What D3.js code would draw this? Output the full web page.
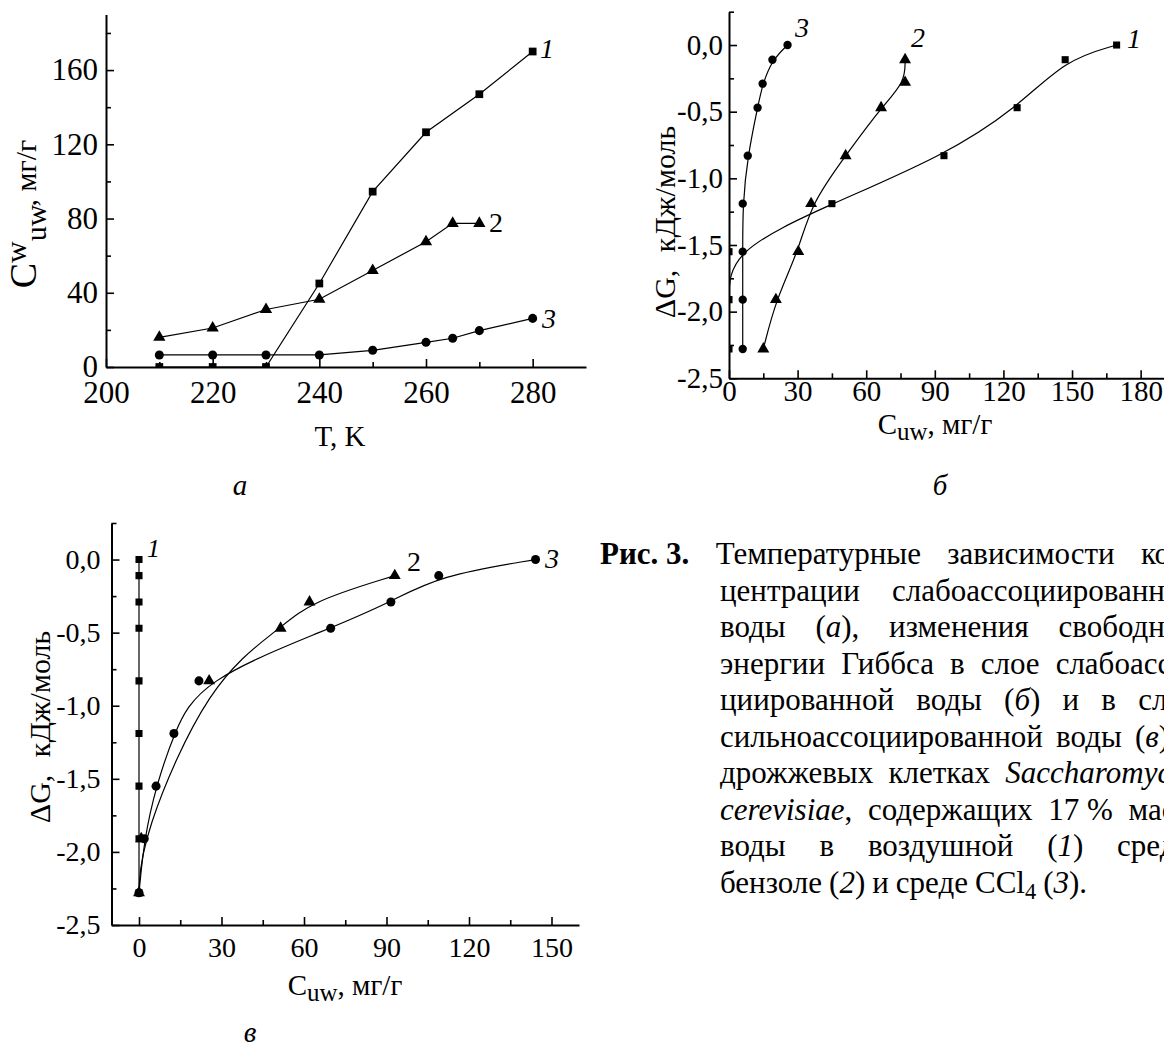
<!DOCTYPE html>
<html>
<head>
<meta charset="utf-8">
<script src="https://cdn.jsdelivr.net/npm/d3@7"></script>
<style>
  body { margin: 0; background: #fff; }
  text { font-family: "Liberation Serif", "Times New Roman", serif; fill: #000; }
  .axis .domain { stroke: #000; stroke-width: 2; }
  .axis line { stroke: #000; stroke-width: 1.6; }
</style>
</head>
<body>
<svg id="fig" width="1164" height="1048"></svg>
<script>
// panel а : C_uw^w (мг/г) against T (K)
var aT1 = [210, 220, 230, 240, 250, 260, 270, 280];
var aC1 = [0, 0, 0, 45, 94.5, 126.5, 147, 170];
var aT2 = [210, 220, 230, 240, 250, 260, 265, 270];
var aC2 = [16, 21, 31, 36.5, 52, 67.5, 77.4, 77.4];
var aT3 = [210, 220, 230, 240, 250, 260, 265, 270, 280];
var aC3 = [6.5, 6.5, 6.5, 6.5, 9, 13.3, 15.5, 19.6, 26.2];

// panel б : dG (кДж/моль) against C_uw (мг/г)
var bG1 = [-2.28, -1.91, -1.55, -1.19, -0.83, -0.47, -0.11, 0];
var bC1 = [0, 0, 0, 45, 94, 126, 147, 169.5];
var bG2 = [-2.28, -1.91, -1.55, -1.19, -0.83, -0.47, -0.28, -0.11];
var bC2 = [15, 20.5, 30.3, 35.9, 51, 66.5, 77, 77];
var bG3 = [-2.28, -1.91, -1.55, -1.19, -0.83, -0.47, -0.29, -0.11, 0];
var bC3 = [6, 6, 6, 6, 8.2, 12.5, 14.7, 19, 25.6];

// panel в : dG against C_uw (strongly associated water)
var cG1 = [-2.28, -1.91, -1.55, -1.19, -0.83, -0.47, -0.29, -0.11, 0];
var cC1 = [0, 0, 0, 0, 0, 0, 0, 0, 0];
var cG2 = [-2.28, -1.91, -0.83, -0.47, -0.29, -0.11];
var cC2 = [0, 0.8, 25.5, 51.5, 62, 93];
var cG3 = [-2.28, -1.91, -1.55, -1.19, -0.83, -0.47, -0.29, -0.11, 0];
var cC3 = [0, 1.9, 6.2, 12.7, 21.8, 69.7, 91.6, 109, 144.2];

// tick values
var aXMajor = [200, 220, 240, 260, 280], aXMinor = [210, 230, 250, 270];
var aYMajor = [0, 40, 80, 120, 160], aYMinor = [20, 60, 100, 140, 180];
var bXMajor = [0, 30, 60, 90, 120, 150, 180], bXMinor = [15, 45, 75, 105, 135, 165];
var cXMajor = [0, 30, 60, 90, 120, 150], cXMinor = [15, 45, 75, 105, 135];
var gMajor = [-2.5, -2, -1.5, -1, -0.5, 0], gMinor = [-2.25, -1.75, -1.25, -0.75, -0.25, 0.25];

// caption
var capLines = [
  ["*Рис.\u00a03.*", "Температурные", "зависимости", "кон-"],
  ["центрации", "слабоассоциированной"],
  ["воды", "(_а_),", "изменения", "свободной"],
  ["энергии", "Гиббса", "в", "слое", "слабоассо-"],
  ["циированной", "воды", "(_б_)", "и", "в", "слое"],
  ["сильноассоциированной", "воды", "(_в_)", "в"],
  ["дрожжевых", "клетках", "_Saccharomyces_"],
  ["_cerevisiae_,", "содержащих", "17\u00a0%", "масс."],
  ["воды", "в", "воздушной", "(_1_)", "среде,"],
  ["бензоле", "(_2_)", "и", "среде", "CCl~4~", "(_3_)."]
];

var svg = d3.select("#fig");
svg.append("rect").attr("width", 1164).attr("height", 1048).attr("fill", "#fff");

var commaFmt = function(d) { return d.toFixed(1).replace(".", ","); };

var drawPanel = function(p) {
  var x = d3.scaleLinear().domain(p.xDomain).range(p.xRange);
  var y = d3.scaleLinear().domain(p.yDomain).range(p.yRange);
  var g = svg.append("g");

  svg.append("clipPath").attr("id", p.id)
    .append("rect")
    .attr("x", p.xRange[0]).attr("y", p.yRange[1] - 30)
    .attr("width", p.xRange[1] - p.xRange[0] + 40)
    .attr("height", p.yRange[0] - p.yRange[1] + 30);

  // minor ticks (inward)
  g.append("g").attr("class", "axis")
    .attr("transform", "translate(0," + p.yRange[0] + ")")
    .call(d3.axisBottom(x).tickValues(p.xMinor).tickSize(-5).tickFormat(""))
    .call(function(s) { s.select(".domain").remove(); });
  g.append("g").attr("class", "axis")
    .attr("transform", "translate(" + p.xRange[0] + ",0)")
    .call(d3.axisLeft(y).tickValues(p.yMinor).tickSize(-5).tickFormat(""))
    .call(function(s) { s.select(".domain").remove(); });

  // major ticks
  g.append("g").attr("class", "axis")
    .attr("transform", "translate(0," + p.yRange[0] + ")")
    .call(d3.axisBottom(x).tickValues(p.xMajor).tickSizeInner(-8).tickSizeOuter(0)
      .tickPadding(p.xPad).tickFormat(p.xFmt))
    .call(function(s) {
      s.selectAll("text").style("font-size", p.tickFont + "px").attr("fill", "#000");
    });
  g.append("g").attr("class", "axis")
    .attr("transform", "translate(" + p.xRange[0] + ",0)")
    .call(d3.axisLeft(y).tickValues(p.yMajor).tickSizeInner(-8).tickSizeOuter(0)
      .tickPadding(p.yPad).tickFormat(p.yFmt))
    .call(function(s) {
      s.selectAll("text").style("font-size", p.tickFont + "px").attr("fill", "#000");
    });

  p.series.forEach(function(s) {
    var data = d3.zip(s.xs, s.ys);
    var line = d3.line()
      .x(function(d) { return x(d[0]); })
      .y(function(d) { return y(d[1]); })
      .curve(s.curve || d3.curveLinear);
    g.append("path")
      .attr("d", line(data))
      .attr("fill", "none")
      .attr("stroke", "#000")
      .attr("stroke-width", 1.2)
      .attr("clip-path", "url(#" + p.id + ")");
    g.append("g").attr("clip-path", "url(#" + p.id + ")")
      .selectAll("path")
      .data(data)
      .enter().append("path")
      .attr("transform", function(d) { return "translate(" + x(d[0]) + "," + y(d[1]) + ")"; })
      .attr("d", d3.symbol().type(s.symbol).size(s.size))
      .attr("fill", "#000");
  });
};

var SQ = d3.symbolSquare, TR = d3.symbolTriangle, CI = d3.symbolCircle;

drawPanel({
  id: "clipA", xDomain: [200, 290], xRange: [106, 586], yDomain: [0, 190], yRange: [367, 14.4],
  xMajor: aXMajor, xMinor: aXMinor, yMajor: aYMajor, yMinor: aYMinor,
  xFmt: d3.format("d"), yFmt: d3.format("d"), xPad: 14, yPad: 8, tickFont: 31,
  series: [
    { xs: aT1, ys: aC1, symbol: SQ, size: 60 },
    { xs: aT2, ys: aC2, symbol: TR, size: 65 },
    { xs: aT3, ys: aC3, symbol: CI, size: 64 }
  ]
});

drawPanel({
  id: "clipB", xDomain: [0, 190], xRange: [729, 1163.5], yDomain: [-2.5, 0.25], yRange: [378.3, 11.7],
  xMajor: bXMajor, xMinor: bXMinor, yMajor: gMajor, yMinor: gMinor,
  xFmt: d3.format("d"), yFmt: commaFmt, xPad: 2, yPad: 6, tickFont: 29,
  series: [
    { xs: bC1, ys: bG1, symbol: SQ, size: 50, curve: d3.curveBasis },
    { xs: bC2, ys: bG2, symbol: TR, size: 62, curve: d3.curveBasis },
    { xs: bC3, ys: bG3, symbol: CI, size: 55, curve: d3.curveBasis }
  ]
});

drawPanel({
  id: "clipC", xDomain: [-10, 160], xRange: [111.5, 579], yDomain: [-2.5, 0.25], yRange: [925, 523],
  xMajor: cXMajor, xMinor: cXMinor, yMajor: gMajor, yMinor: gMinor,
  xFmt: d3.format("d"), yFmt: commaFmt, xPad: 12, yPad: 11, tickFont: 28,
  series: [
    { xs: cC1, ys: cG1, symbol: SQ, size: 50 },
    { xs: cC2, ys: cG2, symbol: TR, size: 62, curve: d3.curveBasis },
    { xs: cC3, ys: cG3, symbol: CI, size: 64, curve: d3.curveBasis }
  ]
});

// series numbers
var numLabel = function(x, y, t, italic, size) {
  svg.append("text").attr("x", x).attr("y", y)
    .style("font-size", (size || 28) + "px")
    .style("font-style", italic ? "italic" : "normal")
    .text(t);
};
numLabel(540, 58, "1", true);
numLabel(489, 232, "2", false);
numLabel(542, 328, "3", true);
numLabel(795, 37, "3", true);
numLabel(911, 47, "2", true);
numLabel(1127, 48, "1", true);
numLabel(147, 557, "1", true, 26);
numLabel(407, 571, "2", false);
numLabel(545, 568, "3", true);

// axis titles
svg.append("text").attr("x", 340).attr("y", 446).attr("text-anchor", "middle")
  .style("font-size", "29px").text("T, K");

var yTitleA = svg.append("text")
  .attr("transform", "translate(36,214) rotate(-90)")
  .attr("text-anchor", "middle")
  .style("font-size", "30px");
yTitleA.append("tspan").style("font-size", "38px").text("C");
yTitleA.append("tspan").attr("dy", -10).text("w");
yTitleA.append("tspan").attr("dy", 20).text("uw");
yTitleA.append("tspan").attr("dy", -10).text(", мг/г");

var cuwTitle = function(x, y) {
  var t = svg.append("text").attr("x", x).attr("y", y).attr("text-anchor", "middle")
    .style("font-size", "29px");
  t.append("tspan").text("C");
  t.append("tspan").attr("dy", 6).style("font-size", "25px").text("uw");
  t.append("tspan").attr("dy", -6).text(", мг/г");
};
cuwTitle(935, 434);
cuwTitle(345, 995);

var dgTitle = function(x, y) {
  var t = svg.append("text")
    .attr("transform", "translate(" + x + "," + y + ") rotate(-90)")
    .attr("text-anchor", "middle")
    .style("font-size", "30px");
  t.append("tspan").text("\u0394G,");
  t.append("tspan").attr("dx", 10).text(" кДж/моль");
};
dgTitle(675, 222);
dgTitle(50, 727);

// panel letters
var panelLetter = function(x, y, t) {
  svg.append("text").attr("x", x).attr("y", y).attr("text-anchor", "middle")
    .style("font-size", "29px").style("font-style", "italic").text(t);
};
panelLetter(240, 495, "а");
panelLetter(940, 495, "б");
panelLetter(250, 1042, "в");

// caption block, justified lines
var capFont = 31, capR = 1197, capX0 = 600, capIndent = 720, capY0 = 564, capLH = 36.5;

var addWord = function(parent, word) {
  var t = parent.append("text").style("font-size", capFont + "px");
  var bold = false, ital = false, sub = false, pendingDy = 0;
  word.split(/([*_~])/).forEach(function(part) {
    if (part === "*") { bold = !bold; return; }
    if (part === "_") { ital = !ital; return; }
    if (part === "~") { sub = !sub; pendingDy += sub ? 6 : -6; return; }
    if (!part) return;
    var ts = t.append("tspan").text(part)
      .style("font-weight", bold ? "bold" : "normal")
      .style("font-style", ital ? "italic" : "normal");
    if (sub) ts.style("font-size", (capFont * 0.72) + "px");
    if (pendingDy) { ts.attr("dy", pendingDy); pendingDy = 0; }
  });
  return t;
};

var capG = svg.append("g");
capLines.forEach(function(words, i) {
  var y = capY0 + i * capLH;
  var x0 = i === 0 ? capX0 : capIndent;
  var nodes = words.map(function(w) { return addWord(capG, w).attr("y", y); });
  var widths = nodes.map(function(n) { return n.node().getComputedTextLength(); });
  var total = d3.sum(widths);
  var gap = i === capLines.length - 1 ? 7 : (capR - x0 - total) / (words.length - 1);
  var cx = x0;
  nodes.forEach(function(n, k) {
    n.attr("x", cx);
    cx += widths[k] + gap;
  });
});
</script>
</body>
</html>
